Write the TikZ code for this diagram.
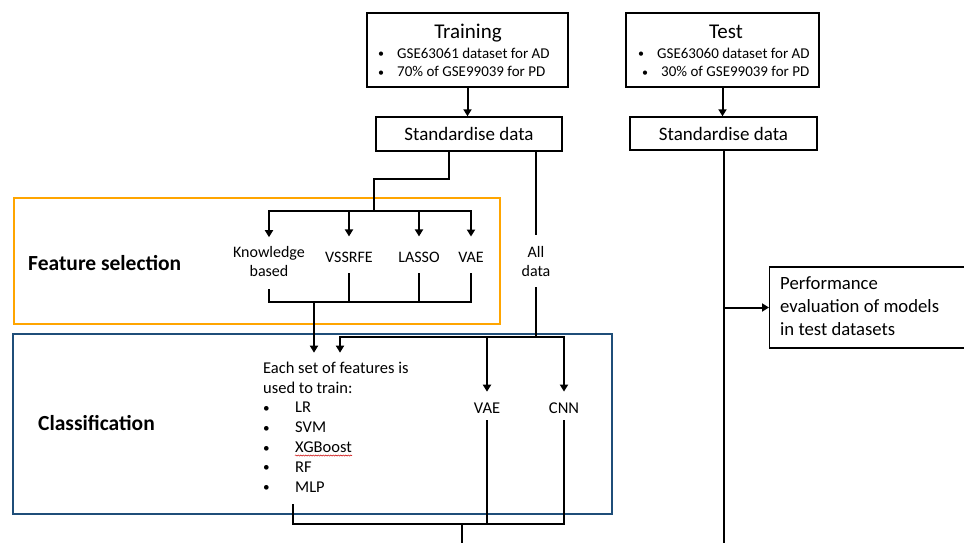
\documentclass[tikz,border=0pt]{standalone}
\usepackage{fontspec}
\setmainfont{Carlito}
\usetikzlibrary{arrows.meta,decorations.pathmorphing}
\definecolor{fsorange}{RGB}{255,165,0}
\definecolor{clblue}{RGB}{31,78,121}
\newcommand{\smallbul}{\raisebox{0.5pt}{\scalebox{0.8}{\textbullet}}}
\begin{document}
\begin{tikzpicture}[x=1pt,y=-1pt,
  wire/.style={line width=2pt},
  arr/.style={wire,-{Triangle[length=7pt,width=8pt]}},
  boxframe/.style={draw,line width=1.4pt,inner sep=0pt},
  ttl/.style={inner sep=0pt,font=\fontsize{21}{25}\selectfont},
  small/.style={inner sep=0pt,font=\fontsize{15}{18.5}\selectfont},
  stdtxt/.style={font=\fontsize{19}{23}\selectfont},
  lab/.style={inner sep=0pt,align=center,font=\fontsize{16}{19}\selectfont},
  sect/.style={inner sep=0pt,font=\fontsize{21.5}{25}\selectfont\bfseries},
  listtxt/.style={inner sep=0pt,align=left,font=\fontsize{16.5}{19.8}\selectfont},
  perftxt/.style={inner sep=0pt,align=left,font=\fontsize{18.7}{23}\selectfont},
]
\fill[white] (0,0) rectangle (964,542);
\useasboundingbox (0,0) rectangle (964,542);

% group frames
\node[draw=fsorange,line width=2pt,inner sep=0pt,minimum width=486pt,minimum height=126pt,anchor=north west] (fsframe) at (13,197) {};
\node[draw=clblue,line width=2pt,inner sep=0pt,minimum width=599pt,minimum height=180pt,anchor=north west] (clframe) at (12,333) {};
\node[sect,anchor=base west] (fslabel) at (28,270) {Feature selection};
\node[sect,anchor=base west] (cllabel) at (38,430) {Classification};

% training data
\node[boxframe,minimum width=201pt,minimum height=74pt] (train) at (467.5,50) {};
\node[ttl,anchor=base] (trainT) at (468,38) {Training};
\node[small,anchor=base] (trainB1) at (381,58) {\smallbul};
\node[small,anchor=base west] (trainL1) at (397,58) {GSE63061 dataset for AD};
\node[small,anchor=base] (trainB2) at (381,76.5) {\smallbul};
\node[small,anchor=base west] (trainL2) at (397,76.5) {70\% of GSE99039 for PD};

% test data
\node[boxframe,minimum width=193pt,minimum height=74pt] (test) at (722.5,50) {};
\node[ttl,anchor=base] (testT) at (726,38) {Test};
\node[small,anchor=base] (testB1) at (641,58) {\smallbul};
\node[small,anchor=base west] (testL1) at (657,58) {GSE63060 dataset for AD};
\node[small,anchor=base] (testB2) at (645,76.5) {\smallbul};
\node[small,anchor=base west] (testL2) at (661,76.5) {30\% of GSE99039 for PD};

% standardisation
\node[boxframe,stdtxt,minimum width=186pt,minimum height=34pt] (std1) at (469,134) {Standardise data};
\node[boxframe,stdtxt,minimum width=187pt,minimum height=33pt] (std2) at (723.5,133.5) {Standardise data};

% evaluation
\node[boxframe,minimum width=230pt,minimum height=81pt,anchor=west] (perf) at (769,307.5) {};
\node[perftxt,anchor=west] (perfT) at (780,306.5) {Performance\\evaluation of models\\in test datasets};

% feature selection methods
\node[lab] (kb) at (269,261) {Knowledge\\based};
\node[lab,anchor=base] (vss) at (349,262) {VSSRFE};
\node[lab,anchor=base] (lasso) at (419,262) {LASSO};
\node[lab,anchor=base] (fvae) at (471,262) {VAE};
\node[lab] (alld) at (536,261) {All\\data};

% classifiers
\node[listtxt,anchor=west] (list) at (263,427) {Each set of features is\\used to train:\\
\makebox[32pt][l]{\smallbul}LR\\
\makebox[32pt][l]{\smallbul}SVM\\
\makebox[32pt][l]{\smallbul}XGBoost\\
\makebox[32pt][l]{\smallbul}RF\\
\makebox[32pt][l]{\smallbul}MLP};
\draw[red!80!black,line width=0.5pt,decorate,decoration={snake,amplitude=0.6pt,segment length=2.5pt}] (295,455.5) -- (352,455.5);
\node[lab,anchor=base,font=\fontsize{16.5}{19.8}\selectfont] (cvae) at (487,413) {VAE};
\node[lab,anchor=base,font=\fontsize{16.5}{19.8}\selectfont] (cnn) at (564,413) {CNN};

% connectors
\draw[arr] (train.south) -- (train.south |- std1.north);
\draw[arr] (test.south) -- (test.south |- std2.north);

\coordinate (fsplit) at (374,211);
\draw[wire] ([xshift=-20pt]std1.south) -- ++(0,27) -| (fsplit);
\draw[arr] (fsplit) -| ([yshift=8.5pt]kb.north);
\draw[arr] (fsplit) -| ([yshift=15pt]vss.north);
\draw[arr] (fsplit) -| ([yshift=15pt]lasso.north);
\draw[arr] (fsplit) -| ([yshift=15pt]fvae.north);

\coordinate (fmerge) at (314,302);
\draw[wire] ([yshift=-13pt]kb.south) |- (fmerge) -| ([yshift=-11pt]fvae.south);
\draw[wire] ([yshift=-11pt]vss.south) -- (vss.south |- fmerge);
\draw[wire] ([yshift=-11pt]lasso.south) -- (lasso.south |- fmerge);
\draw[arr] (fmerge) -- ([yshift=9pt]fmerge |- list.north);

\draw[wire] (std1.south -| alld.north) -- ([yshift=11pt]alld.north);
\coordinate (csplit) at (536,337);
\draw[wire] ([yshift=-11pt]alld.south) -- (csplit);
\draw[arr] (csplit) -| ([xshift=26pt,yshift=9pt]fmerge |- list.north);
\draw[arr] (csplit) -| ([yshift=10.5pt]cvae.north);
\draw[arr] (csplit) -| ([yshift=10.5pt]cnn.north);

\coordinate (cmerge) at (462,524);
\coordinate (outEnd) at (462,546);
\draw[wire] ([xshift=30pt,yshift=-12pt]list.south west) |- (cmerge);
\draw[wire] ([yshift=-7pt]cvae.south) -- (cvae.south |- cmerge);
\draw[wire] ([yshift=-7pt]cnn.south) |- (cmerge);
\draw[wire] (cmerge) -- (outEnd);

\coordinate (testEnd) at (723.5,546);
\draw[wire] (std2.south) -- (std2.south |- testEnd);
\draw[arr] (std2.south |- perf.west) -- (perf.west);
\end{tikzpicture}
\end{document}
